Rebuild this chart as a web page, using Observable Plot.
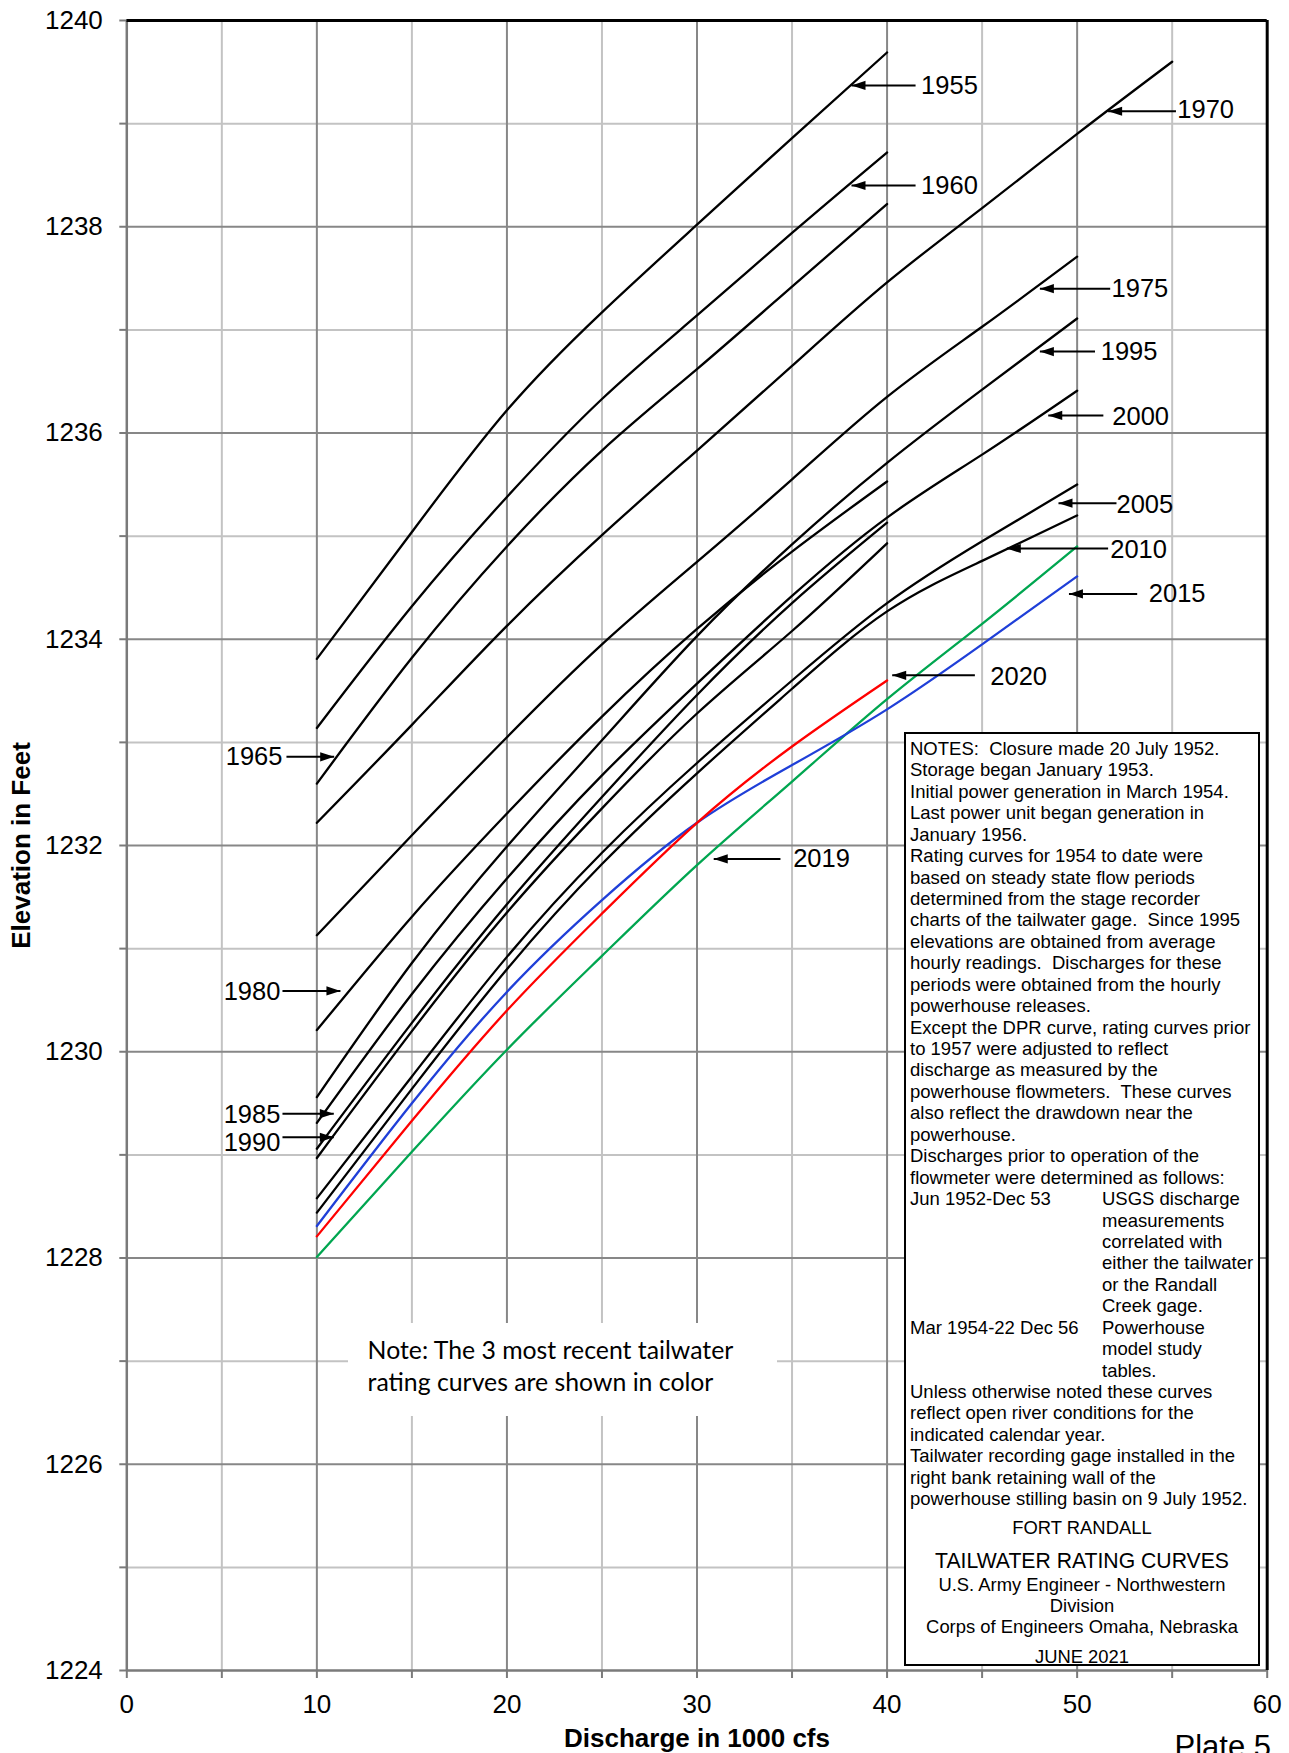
<!DOCTYPE html>
<html>
<head>
<meta charset="utf-8">
<script src="https://cdn.jsdelivr.net/npm/d3@7"></script>
<script src="https://cdn.jsdelivr.net/npm/@observablehq/plot@0.6"></script>
<style>
  html, body { margin: 0; padding: 0; background: #fff; }
  #wrap { position: relative; width: 1289px; height: 1753px; overflow: hidden; background: #fff; }
  #chart { position: absolute; left: 0; top: 0; }
  .abs { position: absolute; }
  #notes { left: 904px; top: 732px; width: 356px; height: 934px; background: #fff; box-sizing: border-box;
           font-family: "Liberation Sans", Arial, sans-serif; color: #000; }
  #notesBorder { left: 904px; top: 732px; width: 356px; height: 934px; box-sizing: border-box;
                 border: 2px solid #000; pointer-events: none; }
  .nline { height: 21.45px; line-height: 21.45px; font-size: 18.5px; white-space: pre; position: relative; }
  .nline .c2 { position: absolute; left: 192px; top: 0; }
  .foot { left: 0; width: 356px; text-align: center; white-space: pre; }
  #recent { left: 348px; top: 1323px; width: 429px; height: 93px; background: #fff;
            font-family: Lato, "Open Sans", sans-serif; color: #000; }
  #recent div { position: absolute; left: 19.6px; white-space: pre; font-size: 24.8px; line-height: 29px; }
</style>
</head>
<body>
<div id="wrap">
  <div id="chart"></div>
  <div id="recent" class="abs"></div>
  <div id="notes" class="abs"></div>
  <div id="notesBorder" class="abs"></div>
</div>
<script>
// Tailwater rating curves: [discharge (1000 cfs), elevation (ft)]
const c1955 = [[10,1233.81],[15,1235.04],[20,1236.22],[25,1237.17],[30,1238.02],[35,1238.86],[40,1239.69]];
const c1960 = [[10,1233.14],[15,1234.32],[20,1235.38],[25,1236.33],[30,1237.14],[35,1237.94],[40,1238.72]];
const c1965 = [[10,1232.60],[15,1233.82],[20,1234.90],[25,1235.83],[30,1236.62],[35,1237.42],[40,1238.22]];
const c1970 = [[10,1232.22],[15,1233.17],[20,1234.13],[25,1235.01],[30,1235.83],[35,1236.65],[40,1237.46],[45,1238.18],[50,1238.90],[55,1239.60]];
const c1975 = [[10,1231.13],[15,1232.10],[20,1233.05],[25,1233.95],[30,1234.75],[35,1235.55],[40,1236.35],[45,1237.03],[50,1237.71]];
const c1980 = [[10,1230.21],[15,1231.31],[20,1232.31],[25,1233.25],[30,1234.10],[35,1234.85],[40,1235.53]];
const c1985 = [[10,1229.06],[15,1230.28],[20,1231.43],[25,1232.47],[30,1233.46],[35,1234.35],[40,1235.13]];
const c1990 = [[10,1228.97],[15,1230.20],[20,1231.35],[25,1232.36],[30,1233.28],[35,1234.08],[40,1234.93]];
const c1995 = [[10,1229.56],[15,1230.86],[20,1231.99],[25,1233.02],[30,1234.03],[35,1234.92],[40,1235.71],[45,1236.42],[50,1237.11]];
const c2000 = [[10,1229.31],[15,1230.56],[20,1231.68],[25,1232.68],[30,1233.57],[35,1234.42],[40,1235.18],[45,1235.79],[50,1236.41]];
const c2005 = [[10,1228.58],[15,1229.76],[20,1230.92],[25,1231.93],[30,1232.80],[35,1233.60],[40,1234.35],[45,1234.95],[50,1235.50]];
const c2010 = [[10,1228.44],[15,1229.64],[20,1230.80],[25,1231.82],[30,1232.70],[35,1233.52],[40,1234.27],[45,1234.76],[50,1235.20]];
const c2015 = [[10,1228.31],[15,1229.50],[20,1230.58],[25,1231.47],[30,1232.22],[35,1232.78],[40,1233.32],[45,1233.95],[50,1234.61]];
const c2019 = [[10,1228.01],[15,1229.03],[20,1230.02],[25,1230.93],[30,1231.81],[35,1232.62],[40,1233.42],[45,1234.15],[50,1234.90]];
const c2020 = [[10,1228.21],[15,1229.33],[20,1230.40],[25,1231.34],[30,1232.22],[35,1232.96],[40,1233.60]];

const blackYears = ["1955","1960","1965","1970","1975","1980","1985","1990","1995","2000","2005","2010"];
const blackCurves = [c1955,c1960,c1965,c1970,c1975,c1980,c1985,c1990,c1995,c2000,c2005,c2010];

// Axis ticks
const xTicks = d3.range(0, 61, 5);          // 0 … 60, labelled every 10
const yTicks = d3.range(1224, 1241, 1);     // 1224 … 1240, labelled every 2
const xMajor = [10, 20, 30, 40, 50];
const xMinor = [5, 15, 25, 35, 45, 55];
const yMajor = [1226, 1228, 1230, 1232, 1234, 1236, 1238];
const yMinor = [1225, 1227, 1229, 1231, 1233, 1235, 1237, 1239];

// Year call-outs: label anchor, arrow tail and arrow tip, in chart units
const calloutsRight = [
  {year:"1955", lx:41.79, ly:1239.37, tx:41.50, hx:38.13, hy:1239.37},
  {year:"1960", lx:41.79, ly:1238.40, tx:41.50, hx:38.13, hy:1238.40},
  {year:"1970", lx:55.27, ly:1239.13, tx:55.20, hx:51.63, hy:1239.12},
  {year:"1975", lx:51.81, ly:1237.40, tx:51.74, hx:48.04, hy:1237.40},
  {year:"1995", lx:51.24, ly:1236.79, tx:50.94, hx:48.04, hy:1236.79},
  {year:"2000", lx:51.85, ly:1236.16, tx:51.38, hx:48.48, hy:1236.17},
  {year:"2005", lx:52.07, ly:1235.30, tx:52.07, hx:49.02, hy:1235.32},
  {year:"2010", lx:51.74, ly:1234.87, tx:51.63, hx:46.30, hy:1234.88},
  {year:"2015", lx:53.77, ly:1234.44, tx:53.16, hx:49.57, hy:1234.44},
  {year:"2020", lx:45.43, ly:1233.64, tx:44.62, hx:40.27, hy:1233.65},
  {year:"2019", lx:35.06, ly:1231.87, tx:34.39, hx:30.88, hy:1231.87}
];
const calloutsLeft = [
  {year:"1965", lx:8.19, ly:1232.86, tx:8.40, hx:10.91, hy:1232.86},
  {year:"1980", lx:8.08, ly:1230.58, tx:8.19, hx:11.24, hy:1230.59},
  {year:"1985", lx:8.08, ly:1229.39, tx:8.19, hx:10.89, hy:1229.40},
  {year:"1990", lx:8.08, ly:1229.12, tx:8.19, hx:10.89, hy:1229.17}
];

const toRows = (year, pts) => pts.map(([x, y]) => ({year, x, y}));
const blackRows = blackYears.flatMap((yr, i) => toRows(yr, blackCurves[i]));
const allCallouts = calloutsRight.concat(calloutsLeft);

const lineOpts = {x: "x", y: "y", z: "year", strokeWidth: 2.3, curve: "natural"};

const chart = Plot.plot({
  width: 1289,
  height: 1753,
  marginLeft: 126.3,
  marginRight: 22.3,
  marginTop: 20,
  marginBottom: 83,
  style: {fontFamily: "'Liberation Sans', Arial, sans-serif", fontSize: "26px", color: "#000", background: "transparent", overflow: "visible"},
  x: {domain: [0, 60], axis: null},
  y: {domain: [1224, 1240], axis: null},
  marks: [
    // grid
    Plot.ruleX(xMinor, {stroke: "#c3c3c3", strokeWidth: 2}),
    Plot.ruleY(yMinor, {stroke: "#c3c3c3", strokeWidth: 2}),
    Plot.ruleX(xMajor, {stroke: "#878787", strokeWidth: 2}),
    Plot.ruleY(yMajor, {stroke: "#878787", strokeWidth: 2}),
    // frame
    Plot.ruleX([0], {stroke: "#7a7a7a", strokeWidth: 2.5}),
    Plot.ruleY([1224], {stroke: "#7a7a7a", strokeWidth: 2.5}),
    Plot.ruleY([1240], {stroke: "#000", strokeWidth: 3}),
    Plot.ruleX([60], {stroke: "#000", strokeWidth: 3}),
    // rating curves
    Plot.line(blackRows, {...lineOpts, stroke: "#000"}),
    Plot.line(toRows("2019", c2019), {...lineOpts, stroke: "#00a650"}),
    Plot.line(toRows("2015", c2015), {...lineOpts, stroke: "#1f3fd8"}),
    Plot.line(toRows("2020", c2020), {...lineOpts, stroke: "#ff0000"}),
    // call-out arrows and year labels
    Plot.link(allCallouts, {x1: "tx", y1: "hy", x2: "hx", y2: "hy", stroke: "#000", strokeWidth: 2, markerEnd: "arrow"}),
    Plot.text(calloutsRight, {x: "lx", y: "ly", text: "year", textAnchor: "start", lineAnchor: "middle", fontSize: 25.5, fill: "#000"}),
    Plot.text(calloutsLeft, {x: "lx", y: "ly", text: "year", textAnchor: "end", lineAnchor: "middle", fontSize: 25.5, fill: "#000"}),
    // axes
    Plot.axisX(xTicks, {anchor: "bottom", tickSize: 8, tickPadding: 16, tickFormat: d => d % 10 === 0 ? String(d) : "",
                        stroke: "#7a7a7a", strokeWidth: 2, fill: "#000", fontSize: 26, label: null}),
    Plot.axisY(yTicks, {anchor: "left", tickSize: 7, tickPadding: 17, tickFormat: d => d % 2 === 0 ? String(d) : "",
                        stroke: "#7a7a7a", strokeWidth: 2, fill: "#000", fontSize: 26, label: null}),
    Plot.text(["Discharge in 1000 cfs"], {text: d => d, frameAnchor: "bottom", textAnchor: "middle", lineAnchor: "middle",
                                          dy: 68, fontWeight: "bold", fontSize: 26, fill: "#000"}),
    Plot.text(["Elevation in Feet"], {text: d => d, frameAnchor: "left", textAnchor: "middle", lineAnchor: "middle",
                                      dx: -105, rotate: -90, fontWeight: "bold", fontSize: 26, fill: "#000"}),
    Plot.text(["Plate 5"], {text: d => d, frameAnchor: "bottom-right", textAnchor: "start", lineAnchor: "middle",
                            dx: -92.7, dy: 77, fontSize: 31, fill: "#000"})
  ]
});

// solid triangular arrowheads for the call-outs
d3.select(chart).selectAll("marker").each(function () {
  const m = d3.select(this);
  m.attr("viewBox", "-15 -6 16 12").attr("markerWidth", 16).attr("markerHeight", 12)
   .attr("markerUnits", "userSpaceOnUse").attr("refX", 0).attr("refY", 0)
   .attr("fill", "#000").attr("stroke", "none");
  m.selectAll("*").remove();
  m.append("path").attr("d", "M-14,-4.6L0,0L-14,4.6Z");
});
document.getElementById("chart").appendChild(chart);

// "shown in color" note
const recentLines = ["Note: The 3 most recent tailwater", "rating curves are shown in color"];
const recent = d3.select("#recent");
recentLines.forEach((t, i) => {
  recent.append("div").style("top", (12 + i * 32) + "px").text(t);
});

// notes panel
const noteLines = [
  ["NOTES:  Closure made 20 July 1952."],
  ["Storage began January 1953."],
  ["Initial power generation in March 1954."],
  ["Last power unit began generation in"],
  ["January 1956."],
  ["Rating curves for 1954 to date were"],
  ["based on steady state flow periods"],
  ["determined from the stage recorder"],
  ["charts of the tailwater gage.  Since 1995"],
  ["elevations are obtained from average"],
  ["hourly readings.  Discharges for these"],
  ["periods were obtained from the hourly"],
  ["powerhouse releases."],
  ["Except the DPR curve, rating curves prior"],
  ["to 1957 were adjusted to reflect"],
  ["discharge as measured by the"],
  ["powerhouse flowmeters.  These curves"],
  ["also reflect the drawdown near the"],
  ["powerhouse."],
  ["Discharges prior to operation of the"],
  ["flowmeter were determined as follows:"],
  ["Jun 1952-Dec 53", "USGS discharge"],
  ["", "measurements"],
  ["", "correlated with"],
  ["", "either the tailwater"],
  ["", "or the Randall"],
  ["", "Creek gage."],
  ["Mar 1954-22 Dec 56", "Powerhouse"],
  ["", "model study"],
  ["", "tables."],
  ["Unless otherwise noted these curves"],
  ["reflect open river conditions for the"],
  ["indicated calendar year."],
  ["Tailwater recording gage installed in the"],
  ["right bank retaining wall of the"],
  ["powerhouse stilling basin on 9 July 1952."]
];
const notes = d3.select("#notes");
const body = notes.append("div").attr("class", "abs").style("left", "6px").style("top", "5.9px");
noteLines.forEach(([a, b]) => {
  const row = body.append("div").attr("class", "nline").text(a);
  if (b !== undefined) row.append("span").attr("class", "c2").text(b);
});

// title block: [text, font size, baseline in page px]
const footLines = [
  ["FORT RANDALL", 18.4, 1535],
  ["TAILWATER RATING CURVES", 21.2, 1568.3],
  ["U.S. Army Engineer - Northwestern", 18.4, 1591.7],
  ["Division", 18.4, 1612.7],
  ["Corps of Engineers Omaha, Nebraska", 18.4, 1634],
  ["JUNE 2021", 18.4, 1663.3]
];
footLines.forEach(([t, fs, base]) => {
  notes.append("div").attr("class", "abs foot")
    .style("font-size", fs + "px")
    .style("line-height", (fs * 1.117) + "px")
    .style("top", (base - 732 - 0.905 * fs) + "px")
    .text(t);
});
</script>
</body>
</html>
